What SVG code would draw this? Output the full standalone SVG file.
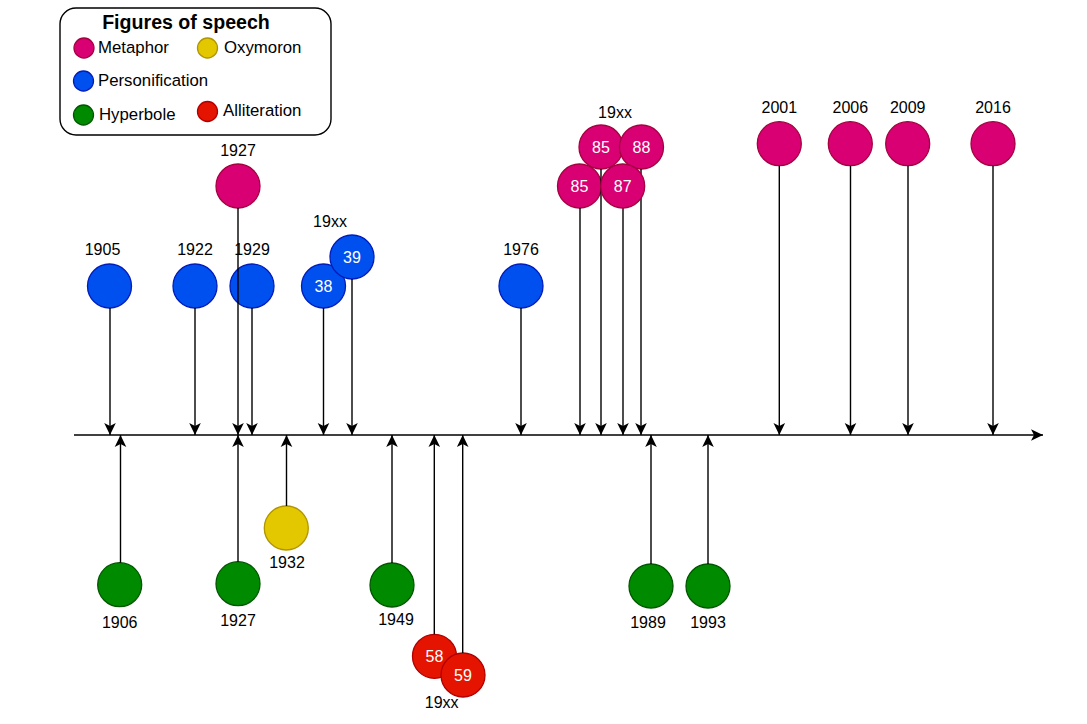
<svg xmlns="http://www.w3.org/2000/svg" width="1087" height="724" viewBox="0 0 1087 724">
<style>
text{font-family:"Liberation Sans",Arial,sans-serif;font-size:16px;fill:#000}
.c{text-anchor:middle}
.w{fill:#fff;text-anchor:middle}
.lg{font-size:16.8px}
.met{fill:#d80073;stroke:#a50040;stroke-width:1.3}
.per{fill:#0050ef;stroke:#001dbc;stroke-width:1.3}
.hyp{fill:#008a00;stroke:#005700;stroke-width:1.3}
.oxy{fill:#e3c800;stroke:#b09500;stroke-width:1.3}
.all{fill:#e51400;stroke:#b20000;stroke-width:1.3}
.ln{stroke:#000;stroke-width:1.4;fill:none;marker-end:url(#arr)}
</style>
<defs>
<marker id="arr" markerUnits="userSpaceOnUse" viewBox="0 0 14 14" markerWidth="14" markerHeight="14" refX="12" refY="7" orient="auto">
<path d="M12,7 L0,1.2 L3,7 L0,12.8 Z" fill="#000"/>
</marker>
</defs>
<rect width="1087" height="724" fill="#fff"/>

<g id="legend">
<rect x="60" y="8" width="271" height="127" rx="16" ry="16" fill="#fff" stroke="#000" stroke-width="1.4"/>
<text x="186" y="28.5" class="c" style="font-weight:bold;font-size:19.6px">Figures of speech</text>
<circle cx="84" cy="48" r="10" class="met"/><text x="98" y="53" class="lg">Metaphor</text>
<circle cx="207.5" cy="48" r="10" class="oxy"/><text x="224" y="53" class="lg">Oxymoron</text>
<circle cx="83.5" cy="81" r="10" class="per"/><text x="98" y="86" class="lg">Personification</text>
<circle cx="83.5" cy="115" r="10" class="hyp"/><text x="99" y="120" class="lg">Hyperbole</text>
<circle cx="207.5" cy="111.5" r="10" class="all"/><text x="223" y="116" class="lg">Alliteration</text>
</g>

<g id="n1905"><circle cx="109.5" cy="286" r="22" class="per"/><text x="102.5" y="255" class="c">1905</text></g>
<g id="n1922"><circle cx="195" cy="286" r="22" class="per"/><text x="195" y="255" class="c">1922</text></g>
<g id="n1929"><circle cx="252" cy="286" r="22" class="per"/><text x="252" y="255" class="c">1929</text></g>
<g id="n1927m"><circle cx="238" cy="186" r="22" class="met"/><text x="238" y="156" class="c">1927</text></g>
<g id="n38"><circle cx="323.5" cy="286" r="22" class="per"/><text x="323.5" y="292" class="w">38</text></g>
<g id="n39"><circle cx="352" cy="257" r="22" class="per"/><text x="352" y="263" class="w">39</text><text x="330" y="227" class="c">19xx</text></g>
<g id="n1976"><circle cx="521" cy="286" r="22" class="per"/><text x="521" y="255" class="c">1976</text></g>
<g id="n85a"><circle cx="601" cy="147" r="22" class="met"/><text x="601" y="153" class="w">85</text><text x="615" y="118" class="c">19xx</text></g>
<g id="n88"><circle cx="641.5" cy="147" r="22" class="met"/><text x="641.5" y="153" class="w">88</text></g>
<g id="n85b"><circle cx="579.5" cy="186" r="22" class="met"/><text x="579.5" y="192" class="w">85</text></g>
<g id="n2001"><circle cx="779.3" cy="143.7" r="22" class="met"/><text x="779.3" y="113" class="c">2001</text></g>
<g id="n2006"><circle cx="850.3" cy="143.7" r="22" class="met"/><text x="850.3" y="113" class="c">2006</text></g>
<g id="n2009"><circle cx="907.7" cy="143.7" r="22" class="met"/><text x="907.7" y="113" class="c">2009</text></g>
<g id="n2016"><circle cx="993" cy="143.7" r="22" class="met"/><text x="993" y="113" class="c">2016</text></g>

<g id="n1906"><circle cx="119.7" cy="584.7" r="22" class="hyp"/><text x="119.7" y="628" class="c">1906</text></g>
<g id="n1927h"><circle cx="238" cy="583.7" r="22" class="hyp"/><text x="238" y="626" class="c">1927</text></g>
<g id="n1932"><circle cx="286.3" cy="528" r="22" class="oxy"/><text x="287" y="568" class="c">1932</text></g>
<g id="n1949"><circle cx="392" cy="585" r="22" class="hyp"/><text x="396" y="625" class="c">1949</text></g>
<g id="n58"><circle cx="434.5" cy="656.3" r="22" class="all"/><text x="434.5" y="662" class="w">58</text></g>
<g id="n59"><circle cx="463" cy="675" r="22" class="all"/><text x="463" y="681" class="w">59</text><text x="441.7" y="708" class="c">19xx</text></g>
<g id="n1989"><circle cx="651" cy="586" r="22" class="hyp"/><text x="648" y="628" class="c">1989</text></g>
<g id="n1993"><circle cx="708" cy="586" r="22" class="hyp"/><text x="708" y="628" class="c">1993</text></g>

<g id="connectors">
<path class="ln" d="M74,435 H1043"/>
<path class="ln" d="M110,308 V435"/>
<path class="ln" d="M195,308 V435"/>
<path class="ln" d="M238,208 V435"/>
<path class="ln" d="M252,308 V435"/>
<path class="ln" d="M323.5,308 V435"/>
<path class="ln" d="M352,279 V435"/>
<path class="ln" d="M521,308 V435"/>
<path class="ln" d="M580,208 V435"/>
<path class="ln" d="M601,169 V435"/>
<path class="ln" d="M623,208 V435"/>
<path class="ln" d="M641,169 V435"/>
<path class="ln" d="M779.3,165.7 V435"/>
<path class="ln" d="M850.5,165.7 V435"/>
<path class="ln" d="M908,165.7 V435"/>
<path class="ln" d="M993,165.7 V435"/>
<path class="ln" d="M120.5,562.7 V435"/>
<path class="ln" d="M238,561.7 V435"/>
<path class="ln" d="M286.5,506 V435"/>
<path class="ln" d="M392,563 V435"/>
<path class="ln" d="M434.3,634.3 V435"/>
<path class="ln" d="M462.7,653 V435"/>
<path class="ln" d="M651,564 V435"/>
<path class="ln" d="M708,564 V435"/>
</g>

<g id="n87"><circle cx="622.7" cy="186" r="22" class="met"/><text x="622.7" y="192" class="w">87</text></g>
</svg>
